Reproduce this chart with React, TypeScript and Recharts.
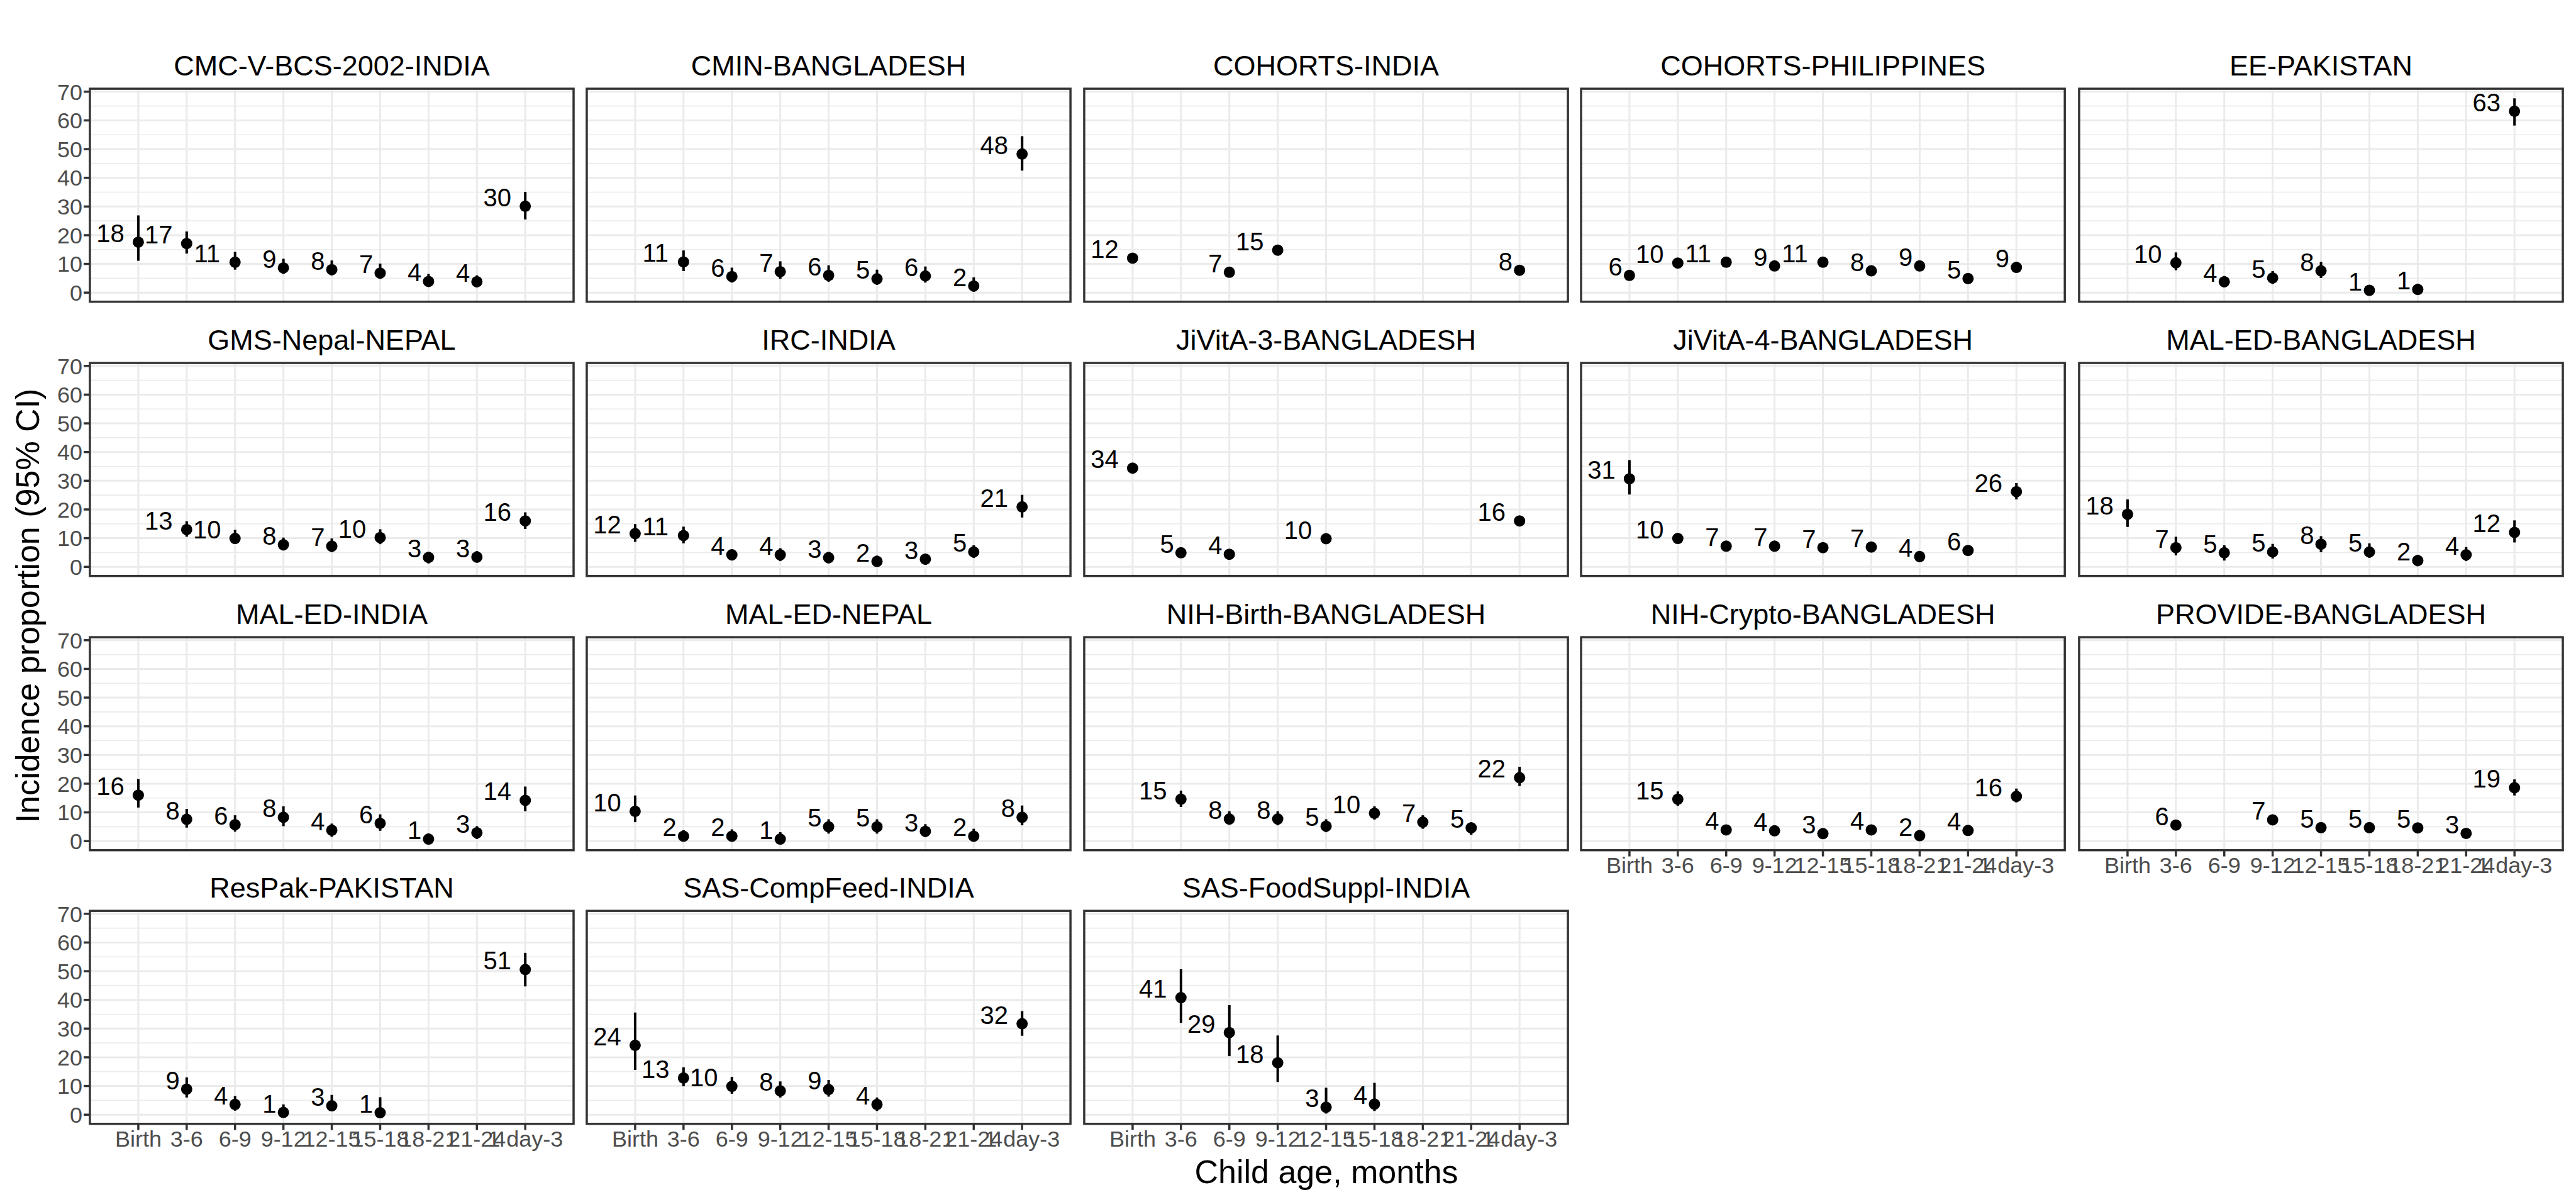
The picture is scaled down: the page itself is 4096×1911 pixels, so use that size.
import React from 'react';
import { ScatterChart, Scatter, XAxis, YAxis, CartesianGrid, ErrorBar } from 'recharts';

// age groups on the x axis, one tick each
const ageGroups = ['Birth', '3-6', '6-9', '9-12', '12-15', '15-18', '18-21', '21-24', '1 day-3'];
const xTicks = [1, 2, 3, 4, 5, 6, 7, 8, 9];
const yTicks = [0, 10, 20, 30, 40, 50, 60, 70];
const yMinor = [5, 15, 25, 35, 45, 55, 65];

const studies = [
  'CMC-V-BCS-2002-INDIA', 'CMIN-BANGLADESH', 'COHORTS-INDIA', 'COHORTS-PHILIPPINES', 'EE-PAKISTAN',
  'GMS-Nepal-NEPAL', 'IRC-INDIA', 'JiVitA-3-BANGLADESH', 'JiVitA-4-BANGLADESH', 'MAL-ED-BANGLADESH',
  'MAL-ED-INDIA', 'MAL-ED-NEPAL', 'NIH-Birth-BANGLADESH', 'NIH-Crypto-BANGLADESH', 'PROVIDE-BANGLADESH',
  'ResPak-PAKISTAN', 'SAS-CompFeed-INDIA', 'SAS-FoodSuppl-INDIA',
];

type V = number | null;

const cmcEst: V[] = [17.6, 17.1, 10.6, 8.6, 8.0, 6.8, 3.9, 3.8, 30.1];
const cmcLo: V[] = [11.1, 13.6, 8.0, 6.5, 6.0, 4.8, 2.1, 1.8, 25.5];
const cmcHi: V[] = [26.9, 21.3, 14.2, 11.8, 11.2, 10.1, 6.5, 6.0, 35.1];

const cminEst: V[] = [null, 10.7, 5.6, 7.3, 6.0, 4.8, 5.8, 2.3, 48.3];
const cminLo: V[] = [null, 7.5, 3.5, 4.8, 3.8, 2.7, 3.5, 0.3, 42.5];
const cminHi: V[] = [null, 14.7, 8.7, 10.9, 9.5, 8.0, 9.1, 5.3, 54.5];

const cohIndEst: V[] = [12.0, null, 7.1, 14.8, null, null, null, null, 7.8];
const cohIndLo: V[] = [11.0, null, 6.0, 13.4, null, null, null, null, 6.8];
const cohIndHi: V[] = [13.0, null, 8.2, 16.2, null, null, null, null, 8.8];

const cohPhlEst: V[] = [6.0, 10.3, 10.6, 9.3, 10.6, 7.6, 9.3, 4.9, 8.8];
const cohPhlLo: V[] = [5.0, 9.2, 9.5, 8.2, 9.5, 6.6, 8.2, 4.0, 7.8];
const cohPhlHi: V[] = [7.0, 11.4, 11.7, 10.4, 11.7, 8.6, 10.4, 5.9, 9.8];

const eeEst: V[] = [null, 10.4, 3.8, 5.1, 7.6, 0.8, 1.1, null, 63.2];
const eeLo: V[] = [null, 7.8, 1.8, 3.0, 5.1, 0.2, 0.3, null, 58.2];
const eeHi: V[] = [null, 14.0, 5.8, 7.5, 10.7, 2.5, 3.1, null, 67.7];

const gmsEst: V[] = [null, 13.0, 9.9, 7.7, 7.2, 10.2, 3.3, 3.4, 16.0];
const gmsLo: V[] = [null, 10.5, 8.0, 5.7, 5.1, 7.9, 1.2, 1.5, 13.2];
const gmsHi: V[] = [null, 15.9, 12.9, 10.2, 9.9, 13.1, 5.2, 5.5, 19.0];

const ircEst: V[] = [11.6, 10.9, 4.2, 4.2, 3.2, 1.9, 2.7, 5.2, 20.9];
const ircLo: V[] = [8.7, 8.2, 2.2, 2.0, 1.2, 0.4, 0.7, 3.1, 17.2];
const ircHi: V[] = [14.9, 14.0, 6.2, 6.5, 5.2, 3.9, 4.5, 7.5, 25.1];

const jv3Est: V[] = [34.4, 4.9, 4.4, null, 9.8, null, null, null, 16.0];
const jv3Lo: V[] = [33.2, 4.2, 3.7, null, 8.9, null, null, null, 15.1];
const jv3Hi: V[] = [35.6, 5.6, 5.1, null, 10.7, null, null, null, 16.9];

const jv4Est: V[] = [30.7, 9.9, 7.2, 7.2, 6.7, 6.9, 3.6, 5.7, 26.2];
const jv4Lo: V[] = [25.2, 9.0, 6.4, 6.4, 5.9, 6.1, 3.0, 5.0, 23.5];
const jv4Hi: V[] = [37.2, 10.8, 8.0, 8.0, 7.5, 7.7, 4.2, 6.4, 29.2];

const medBgdEst: V[] = [18.3, 6.7, 4.9, 5.2, 7.9, 5.2, 2.2, 4.2, 12.0];
const medBgdLo: V[] = [13.9, 4.0, 2.2, 2.9, 5.1, 3.1, 0.2, 2.0, 8.5];
const medBgdHi: V[] = [23.5, 10.5, 7.5, 8.0, 10.7, 8.2, 4.2, 6.9, 16.2];

const medIndEst: V[] = [16.0, 7.6, 5.7, 8.3, 3.8, 6.2, 0.7, 2.9, 14.2];
const medIndLo: V[] = [11.7, 4.7, 3.3, 5.2, 1.5, 3.6, 0.0, 0.7, 10.4];
const medIndHi: V[] = [21.6, 11.2, 9.0, 12.1, 6.1, 9.3, 2.6, 5.2, 19.0];

const medNplEst: V[] = [10.4, 1.7, 1.7, 0.7, 5.0, 5.0, 3.4, 1.7, 8.3];
const medNplLo: V[] = [6.6, 0.2, 0.2, 0.2, 2.6, 2.6, 1.4, 0.2, 5.5];
const medNplHi: V[] = [15.9, 3.8, 4.1, 3.1, 7.6, 7.6, 5.9, 4.3, 12.4];

const nihBirthEst: V[] = [null, 14.6, 7.7, 7.7, 5.2, 9.7, 6.6, 4.6, 22.1];
const nihBirthLo: V[] = [null, 11.9, 5.7, 5.5, 3.1, 7.5, 4.3, 2.2, 19.2];
const nihBirthHi: V[] = [null, 17.6, 10.4, 10.4, 7.6, 12.1, 9.0, 6.6, 25.9];

const nihCryEst: V[] = [null, 14.6, 3.9, 3.6, 2.6, 3.9, 1.9, 3.7, 15.6];
const nihCryLo: V[] = [null, 12.3, 2.5, 2.2, 1.3, 2.5, 0.8, 2.3, 13.5];
const nihCryHi: V[] = [null, 17.3, 5.5, 5.2, 4.0, 5.5, 3.2, 5.3, 18.3];

const provEst: V[] = [null, 5.6, null, 7.4, 4.7, 4.7, 4.6, 2.7, 18.6];
const provLo: V[] = [null, 4.3, null, 6.0, 3.5, 3.5, 3.4, 1.8, 15.9];
const provHi: V[] = [null, 7.0, null, 9.0, 6.0, 6.0, 5.9, 3.8, 21.5];

const resEst: V[] = [null, 8.9, 3.6, 0.8, 3.1, 0.7, null, null, 50.6];
const resLo: V[] = [null, 6.0, 1.4, 0.2, 1.4, 0.2, null, null, 44.7];
const resHi: V[] = [null, 13.0, 6.5, 3.6, 6.9, 6.1, null, null, 56.4];

const compEst: V[] = [24.2, 12.8, 9.9, 8.3, 8.8, 3.6, null, null, 31.7];
const compLo: V[] = [15.6, 9.9, 7.3, 6.0, 6.3, 1.3, null, null, 27.5];
const compHi: V[] = [35.6, 16.5, 13.2, 11.6, 12.1, 6.0, null, null, 36.1];

const foodEst: V[] = [null, 40.8, 28.6, 18.1, 2.6, 3.7, null, null, null];
const foodLo: V[] = [null, 32.0, 20.4, 11.4, 0.4, 1.3, null, null, null];
const foodHi: V[] = [null, 50.7, 38.2, 27.6, 9.4, 11.1, null, null, null];

const estimates = [cmcEst, cminEst, cohIndEst, cohPhlEst, eeEst, gmsEst, ircEst, jv3Est, jv4Est, medBgdEst,
  medIndEst, medNplEst, nihBirthEst, nihCryEst, provEst, resEst, compEst, foodEst];
const lowers = [cmcLo, cminLo, cohIndLo, cohPhlLo, eeLo, gmsLo, ircLo, jv3Lo, jv4Lo, medBgdLo,
  medIndLo, medNplLo, nihBirthLo, nihCryLo, provLo, resLo, compLo, foodLo];
const uppers = [cmcHi, cminHi, cohIndHi, cohPhlHi, eeHi, gmsHi, ircHi, jv3Hi, jv4Hi, medBgdHi,
  medIndHi, medNplHi, nihBirthHi, nihCryHi, provHi, resHi, compHi, foodHi];

// layout (reference px * 0.91)
const S = 4096 / 4500;
const COL_LEFT = [157, 1025, 1894, 2762, 3632].map((v) => v * S);
const ROW_TOP = [155, 634, 1113, 1591].map((v) => v * S);
const PANEL_W = 845 * S;
const PANEL_H = 372 * S;
const Y_W = 80;
const X_H = 60;
const TOP_PAD = 30;
const FONT = '"Liberation Sans", Arial, Helvetica, sans-serif';
const LABEL_SIZE = 40;
const TICK_SIZE = 36;

const PointWithLabel = (props: any) => {
  const { cx, cy, payload } = props;
  if (cx == null || cy == null) return null;
  const txt = String(Math.round(payload.est));
  const w = txt.length * 0.556 * LABEL_SIZE;
  return (
    <g>
      <circle cx={cx} cy={cy} r={9} fill="#000" />
      <text x={cx - w} y={cy} textAnchor="middle" fontSize={LABEL_SIZE} fontFamily={FONT} fill="#000">
        {txt}
      </text>
    </g>
  );
};

// tick renderer that draws nothing, so the axis keeps its ticks for the grid
const NoTick = () => <g />;

const Panel = ({ idx }: { idx: number }) => {
  const row = Math.floor(idx / 5);
  const col = idx % 5;
  const showX = row === 3 || (row === 2 && col >= 3);
  const showY = col === 0;
  const data = estimates[idx]
    .map((e, i) => (e == null ? null : {
      x: i + 1,
      est: e,
      err: [e - (lowers[idx][i] as number), (uppers[idx][i] as number) - e],
    }))
    .filter(Boolean) as any[];

  return (
    <div style={{ position: 'absolute', left: COL_LEFT[col] - Y_W, top: ROW_TOP[row] - TOP_PAD }}>
      <ScatterChart
        width={Y_W + PANEL_W + 4}
        height={TOP_PAD + PANEL_H + X_H}
        margin={{ top: TOP_PAD, right: 4, bottom: 0, left: 0 }}
      >
        <CartesianGrid vertical={false} horizontalValues={yMinor} stroke="#EBEBEB" strokeWidth={1.6} />
        <CartesianGrid horizontalValues={yTicks} verticalValues={xTicks} stroke="#EBEBEB" strokeWidth={3} />
        <XAxis
          type="number"
          dataKey="x"
          domain={[0, 10]}
          ticks={xTicks}
          interval={0}
          allowDataOverflow
          height={X_H}
          axisLine={false}
          tickLine={showX ? { stroke: '#333333', strokeWidth: 3.5 } : false}
          tickSize={10}
          tickMargin={1}
          tick={showX ? { fontSize: TICK_SIZE, fill: '#4D4D4D', fontFamily: FONT } : NoTick}
          tickFormatter={(v: number) => ageGroups[v - 1] ?? ''}
        />
        <YAxis
          type="number"
          dataKey="est"
          domain={[-3.15, 71.05]}
          ticks={yTicks}
          interval={0}
          allowDataOverflow
          width={Y_W}
          axisLine={false}
          tickLine={showY ? { stroke: '#333333', strokeWidth: 3.5 } : false}
          tickSize={10}
          tickMargin={2}
          tick={showY ? { fontSize: TICK_SIZE, fill: '#4D4D4D', fontFamily: FONT } : NoTick}
        />
        <Scatter data={data} isAnimationActive={false} shape={PointWithLabel}>
          <ErrorBar dataKey="err" direction="y" width={0} stroke="#000" strokeWidth={4} isAnimationActive={false} />
        </Scatter>
      </ScatterChart>
    </div>
  );
};

export default function App() {
  return (
    <div style={{ position: 'relative', width: 4096, height: 1911, background: '#fff', overflow: 'hidden', fontFamily: FONT }}>
      <style>{'body{margin:0}'}</style>
      {studies.map((s, i) => (
        <Panel key={s} idx={i} />
      ))}
      <svg width={4096} height={1911} style={{ position: 'absolute', left: 0, top: 0, pointerEvents: 'none' }}>
        {studies.map((s, i) => {
          const left = COL_LEFT[i % 5];
          const top = ROW_TOP[Math.floor(i / 5)];
          return (
            <g key={s}>
              <rect x={left} y={top} width={PANEL_W} height={PANEL_H} fill="none" stroke="#333333" strokeWidth={3.5} />
              <text x={left + PANEL_W / 2} y={top - 21} textAnchor="middle" fontSize={45} fontFamily={FONT} fill="#000">
                {s}
              </text>
            </g>
          );
        })}
        <text x={2109} y={1881} textAnchor="middle" fontSize={52} fontFamily={FONT} fill="#000">
          Child age, months
        </text>
        <text transform="translate(62,963) rotate(-90)" textAnchor="middle" fontSize={52} fontFamily={FONT} fill="#000">
          Incidence proportion (95% CI)
        </text>
      </svg>
    </div>
  );
}
